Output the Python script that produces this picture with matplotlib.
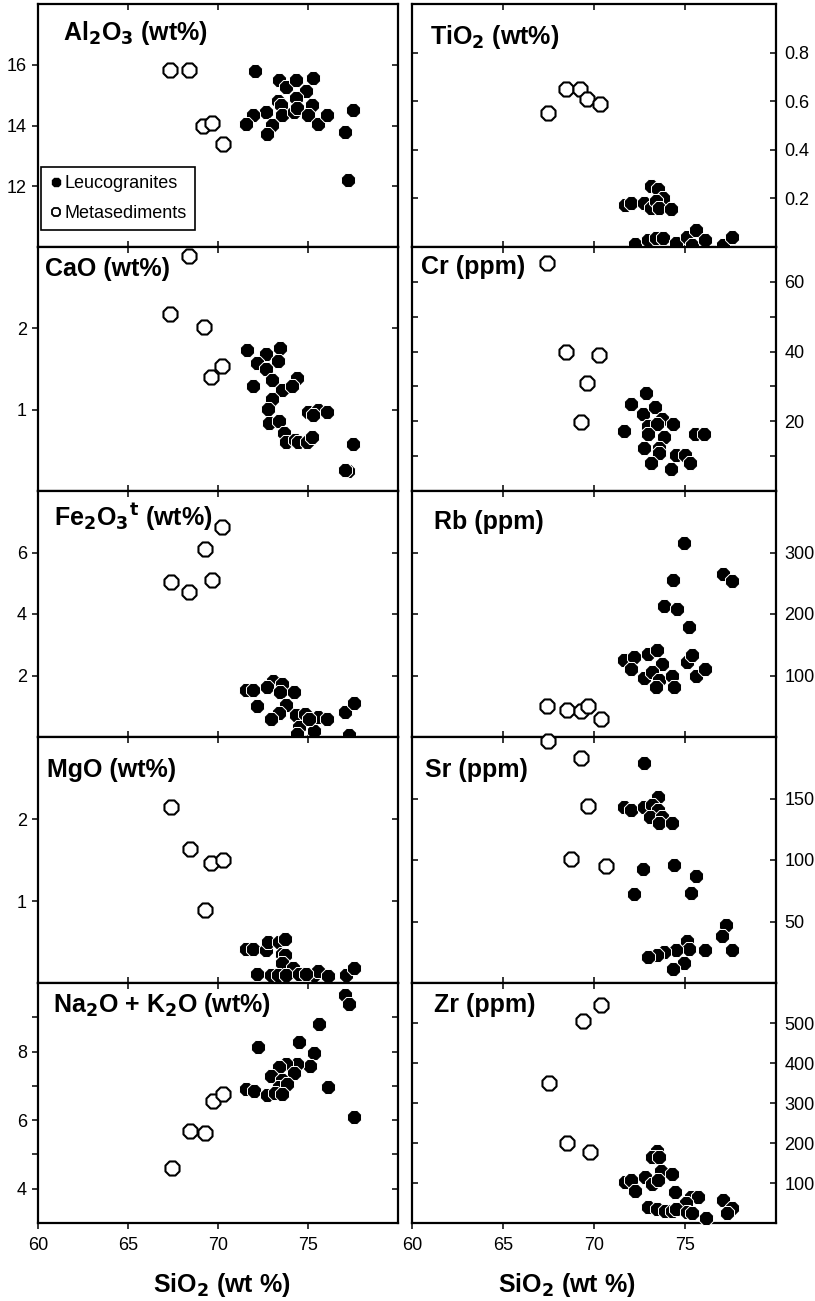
## Diagramas de Harker - leucogranitos y metasedimentos
import numpy as np
import matplotlib
matplotlib.use('Agg')
import matplotlib.pyplot as plt
from matplotlib import lines as mlines

plt.rcParams['font.family'] = ['Liberation Sans', 'DejaVu Sans']

## Datos (SiO2 en x)
# Al2O3
al_leu_x = [72.06, 73.39, 73.76, 74.31, 75.29, 74.87, 74.31, 73.35, 73.48, 72.65, 71.95, 71.58,
            72.98, 72.74, 73.54, 74.22, 74.40, 75.24, 75.01, 75.57, 76.07, 77.08, 77.49, 77.23]
al_leu_y = [15.78, 15.50, 15.26, 15.50, 15.58, 15.15, 14.90, 14.82, 14.66, 14.44, 14.33, 14.05,
            14.02, 13.73, 14.33, 14.44, 14.57, 14.68, 14.33, 14.05, 14.35, 13.78, 14.51, 12.20]
al_met_x = [67.33, 68.37, 69.18, 69.66, 70.25]
al_met_y = [15.83, 15.83, 14.00, 14.09, 13.40]
# TiO2
ti_leu_x = [73.11, 73.53, 73.80, 71.70, 72.01, 72.76, 73.11, 73.38, 73.56, 74.23,
            72.25, 72.94, 73.38, 73.80, 74.48, 75.09, 75.60, 75.36, 76.10, 77.10, 77.56]
ti_leu_y = [0.251, 0.240, 0.203, 0.171, 0.182, 0.182, 0.161, 0.189, 0.161, 0.158,
            0.014, 0.030, 0.038, 0.038, 0.017, 0.042, 0.072, 0.010, 0.030, 0.010, 0.042]
ti_met_x = [67.46, 68.47, 69.22, 69.64, 70.32]
ti_met_y = [0.553, 0.652, 0.652, 0.610, 0.590]
# CaO
ca_leu_x = [71.60, 72.65, 73.44, 73.35, 72.19, 72.65, 73.02, 71.97, 73.57, 74.37, 74.13, 72.98,
            72.80, 72.83, 73.39, 73.67, 73.79, 74.28, 74.46, 74.96, 75.20, 75.01, 75.57, 75.29,
            76.07, 77.49, 77.23, 77.08]
ca_leu_y = [1.73, 1.69, 1.76, 1.60, 1.57, 1.50, 1.37, 1.29, 1.24, 1.39, 1.29, 1.13,
            1.01, 0.84, 0.86, 0.71, 0.60, 0.63, 0.60, 0.60, 0.67, 0.97, 1.00, 0.94,
            0.97, 0.58, 0.25, 0.26]
ca_met_x = [68.40, 67.35, 69.20, 70.21, 69.60]
ca_met_y = [2.89, 2.18, 2.02, 1.54, 1.40]
# Cr
cr_leu_x = [72.83, 72.03, 72.70, 73.35, 73.71, 74.32, 71.66, 72.98, 73.44, 72.94, 73.86,
            75.55, 76.06, 72.76, 73.56, 73.56, 74.48, 74.99, 75.27, 73.13, 74.23]
cr_leu_y = [28.2, 25.0, 22.2, 24.1, 20.6, 19.1, 17.2, 18.7, 19.1, 16.3, 15.4,
            16.3, 16.3, 12.3, 12.3, 11.0, 10.3, 10.3, 8.1, 8.1, 6.2]
cr_met_x = [67.44, 68.47, 70.28, 69.64, 69.28]
cr_met_y = [65.3, 40.0, 39.0, 31.1, 19.9]
# Fe2O3t
fe_leu_x = [71.58, 71.95, 73.06, 72.74, 73.54, 73.44, 74.22, 72.19, 73.79, 73.39, 72.93,
            74.35, 74.83, 75.57, 76.07, 74.50, 74.37, 75.33, 77.08, 77.54, 77.27, 75.05]
fe_leu_y = [1.53, 1.53, 1.81, 1.62, 1.73, 1.46, 1.46, 1.00, 1.04, 0.79, 0.57,
            0.73, 0.76, 0.66, 0.60, 0.33, 0.11, 0.18, 0.82, 1.10, 0.07, 0.60]
fe_met_x = [70.21, 69.27, 67.39, 68.40, 69.64]
fe_met_y = [6.82, 6.11, 5.04, 4.72, 5.10]
# Rb
rb_leu_x = [74.96, 74.35, 77.10, 77.56, 73.86, 74.54, 75.23, 71.66, 72.21, 72.06, 72.98, 73.44,
            73.75, 72.76, 73.16, 73.56, 73.38, 74.26, 74.41, 75.09, 75.36, 75.58, 76.10]
rb_leu_y = [315, 255, 265, 254, 213, 208, 179, 126, 130, 111, 135, 141,
            118, 96, 105, 93, 81, 99, 81, 122, 133, 99, 110]
rb_met_x = [67.44, 68.49, 69.31, 69.68, 70.36]
rb_met_y = [50.7, 44.1, 42.5, 50.7, 28.8]
# MgO
mg_leu_x = [71.58, 71.95, 72.69, 72.80, 73.39, 73.72, 73.54, 73.72, 73.57, 74.18, 72.19,
            72.93, 73.35, 73.79, 74.50, 75.33, 75.57, 76.12, 77.12, 77.54, 74.87]
mg_leu_y = [0.41, 0.41, 0.40, 0.50, 0.50, 0.54, 0.35, 0.34, 0.25, 0.18, 0.11,
            0.10, 0.10, 0.10, 0.11, 0.10, 0.15, 0.09, 0.10, 0.18, 0.11]
mg_met_x = [67.40, 68.42, 69.62, 70.25, 69.27]
mg_met_y = [2.15, 1.64, 1.46, 1.50, 0.89]
# Sr
sr_leu_x = [72.74, 73.49, 71.66, 72.03, 72.76, 73.16, 73.49, 73.07, 73.75, 73.56, 74.26,
            72.70, 74.41, 75.58, 72.21, 75.33, 77.23, 77.05, 77.56, 75.09, 75.22, 76.10,
            74.48, 73.86, 73.44, 72.94, 74.96, 74.32]
sr_leu_y = [179, 151, 143, 141, 143, 145, 141, 135, 135, 130, 130,
            93, 96, 87, 72, 73, 47, 38, 27, 34, 28, 27,
            27, 25, 23, 21, 16, 11]
sr_met_x = [67.48, 69.26, 69.68, 68.76, 70.67]
sr_met_y = [197, 183, 144, 101, 95]
# Na2O + K2O
na_leu_x = [77.08, 77.27, 75.60, 72.24, 74.50, 75.33, 75.09, 74.37, 73.76, 73.39, 74.22,
            72.93, 73.57, 73.39, 73.85, 71.58, 72.00, 72.74, 73.17, 73.54, 76.12, 77.54]
na_leu_y = [9.66, 9.39, 8.80, 8.14, 8.29, 7.95, 7.57, 7.64, 7.64, 7.54, 7.37,
            7.28, 7.18, 6.97, 7.05, 6.90, 6.84, 6.74, 6.80, 6.76, 6.97, 6.09]
na_met_x = [67.44, 68.44, 69.29, 69.70, 70.29]
na_met_y = [4.60, 5.68, 5.62, 6.57, 6.77]
# Zr
zr_leu_x = [73.47, 73.16, 73.56, 73.67, 74.26, 72.80, 73.16, 73.53, 71.73, 72.06, 72.25, 74.45,
            75.33, 75.69, 75.03, 72.98, 73.47, 73.89, 74.26, 74.48, 75.09, 75.40, 76.15,
            77.10, 77.60, 77.29]
zr_leu_y = [180, 164, 164, 130, 123, 116, 97, 108, 102, 108, 80, 78,
            65, 65, 49, 41, 34, 31, 31, 34, 28, 24, 12,
            57, 37, 25]
zr_met_x = [70.38, 69.37, 67.52, 68.54, 69.79]
zr_met_y = [544, 506, 351, 200, 178]

## Titulos, limites y marcas de cada panel
titles = [r'Al$_\mathbf{2}$O$_\mathbf{3}$ (wt%)', r'TiO$_\mathbf{2}$ (wt%)',
          'CaO (wt%)', 'Cr (ppm)',
          r'Fe$_\mathbf{2}$O$_\mathbf{3}$$^\mathbf{t}$ (wt%)', 'Rb (ppm)',
          'MgO (wt%)', 'Sr (ppm)',
          r'Na$_\mathbf{2}$O + K$_\mathbf{2}$O (wt%)', 'Zr (ppm)']
ylims = [(10, 18), (0, 1.0), (0, 3), (0, 70), (0, 8), (0, 400), (0, 3), (0, 200), (3, 10), (0, 600)]
yticks = [[12, 14, 16], [0.2, 0.4, 0.6, 0.8], [1, 2], [10, 20, 30, 40, 50, 60],
          [2, 4, 6], [100, 200, 300], [1, 2], [50, 100, 150], [4, 5, 6, 7, 8, 9], [100, 200, 300, 400, 500]]
ylabels_shown = [None, None, None, [20, 40, 60], None, None, None, None, [4, 6, 8], None]
title_off = [(25, 29), (18, 33), (7, 22), (9, 20), (16, 26), (22, 31), (9, 33), (13, 33), (15, 22), (22, 22)]

leu = [(al_leu_x, al_leu_y), (ti_leu_x, ti_leu_y), (ca_leu_x, ca_leu_y), (cr_leu_x, cr_leu_y),
       (fe_leu_x, fe_leu_y), (rb_leu_x, rb_leu_y), (mg_leu_x, mg_leu_y), (sr_leu_x, sr_leu_y),
       (na_leu_x, na_leu_y), (zr_leu_x, zr_leu_y)]
met = [(al_met_x, al_met_y), (ti_met_x, ti_met_y), (ca_met_x, ca_met_y), (cr_met_x, cr_met_y),
       (fe_met_x, fe_met_y), (rb_met_x, rb_met_y), (mg_met_x, mg_met_y), (sr_met_x, sr_met_y),
       (na_met_x, na_met_y), (zr_met_x, zr_met_y)]

W, H = 815, 1301
fig = plt.figure(figsize=(W/100, H/100), dpi=100)
cols = [(38, 398), (412, 776)]
rows = [(4, 247), (247, 491), (491, 737), (737, 983), (983, 1223)]

for i in range(10):
    r, c = i // 2, i % 2
    x0, x1 = cols[c]
    y0, y1 = rows[r]
    ax = fig.add_axes([x0/W, 1 - y1/H, (x1-x0)/W, (y1-y0)/H])
    ax.scatter(*met[i], marker='8', s=120, facecolor='white', edgecolor='black',
               linewidth=1.5, clip_on=False, zorder=3)
    ax.scatter(*leu[i], marker='8', s=120, facecolor='black', edgecolor='white',
               linewidth=0.7, clip_on=False, zorder=4)
    ax.set_xlim(60, 80)
    ax.set_ylim(*ylims[i])
    ax.set_xticks([60, 65, 70, 75])
    ax.set_yticks(yticks[i])
    shown = ylabels_shown[i]
    if shown is not None:
        ax.set_yticklabels([('%g' % t) if t in shown else '' for t in yticks[i]])
    for s in ax.spines.values():
        s.set_linewidth(1.6)
    ax.tick_params(axis='both', labelsize=13, width=1.1, length=4)
    ax.tick_params(axis='x', direction='in', top=True, pad=6)
    if r == 4:
        ax.tick_params(axis='x', direction='out')
        for t in ax.xaxis.get_major_ticks():
            t.tick2line.set_marker(mlines.TICKDOWN)  # arriba hacia dentro
    else:
        ax.tick_params(axis='x', labelbottom=False)
    if c == 0:
        ax.tick_params(axis='y', left=True, right=True, direction='out', pad=4)
        for t in ax.yaxis.get_major_ticks():
            t.tick2line.set_marker(mlines.TICKLEFT)  # derecha hacia dentro
    else:
        ax.tick_params(axis='y', left=True, right=True, direction='in',
                       labelleft=False, labelright=True, pad=6)
    ax.annotate(titles[i], xy=(0, 1), xycoords='axes fraction',
                xytext=(title_off[i][0], -title_off[i][1]), textcoords='offset pixels',
                ha='left', va='center', fontsize=18, fontweight='bold')
    if i == 0:
        h_leu = mlines.Line2D([], [], marker='8', ls='none', markersize=6.5,
                              markerfacecolor='black', markeredgecolor='black')
        h_met = mlines.Line2D([], [], marker='8', ls='none', markersize=6.5,
                              markerfacecolor='white', markeredgecolor='black', markeredgewidth=1.3)
        leg = ax.legend([h_leu, h_met], ['Leucogranites', 'Metasediments'], loc='lower left',
                        bbox_to_anchor=(0.008, 0.07), borderaxespad=0, fontsize=13,
                        handletextpad=0.05, handlelength=0.8, borderpad=0.45, labelspacing=0.7,
                        fancybox=False, framealpha=1)
        leg.get_frame().set_edgecolor('black')
        leg.get_frame().set_linewidth(1.2)

fig.text(222/W, 1 - 1285/H, r'SiO$_\mathbf{2}$ (wt %)', ha='center', va='center',
         fontsize=18, fontweight='bold')
fig.text(567/W, 1 - 1285/H, r'SiO$_\mathbf{2}$ (wt %)', ha='center', va='center',
         fontsize=18, fontweight='bold')

plt.savefig('out.png', dpi=100)
